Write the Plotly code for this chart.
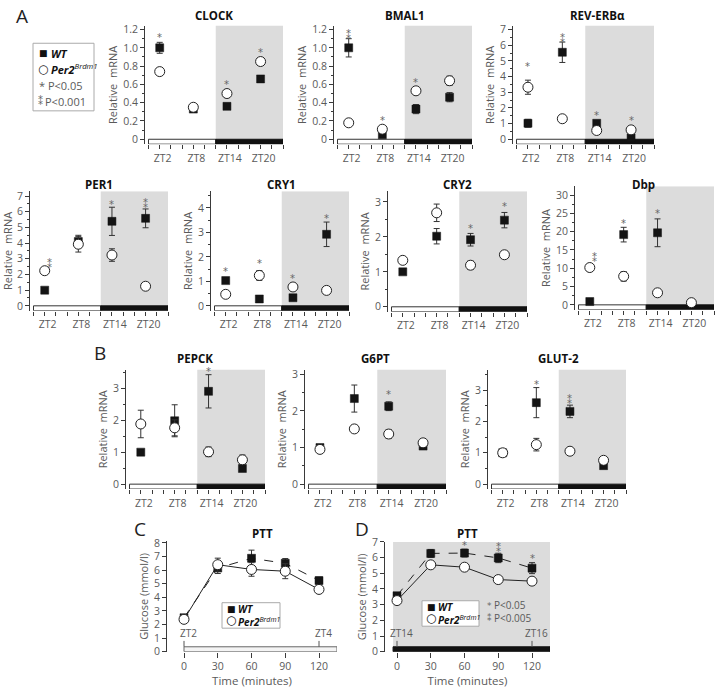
import plotly.graph_objects as go

W, H = 715, 692
FONT = "Open Sans"
GREY = "#5a5a5a"
AX = "#3a3a3a"
SHADE = "#dcdcdc"

# ---------------- data ----------------
ZT = [2, 8, 14, 20]
ZT_LABELS = ["ZT2", "ZT8", "ZT14", "ZT20"]

clock_wt = [1.00, 0.33, 0.36, 0.66]
clock_wt_err = [0.06, 0.03, 0.03, 0.02]
clock_per2 = [0.74, 0.35, 0.50, 0.85]
clock_per2_err = [0.04, 0.03, 0.04, 0.04]

bmal1_wt = [1.00, 0.05, 0.33, 0.46]
bmal1_wt_err = [0.10, 0.01, 0.05, 0.05]
bmal1_per2 = [0.18, 0.11, 0.53, 0.64]
bmal1_per2_err = [0.02, 0.02, 0.03, 0.05]

reverb_wt = [1.02, 5.55, 1.02, 0.10]
reverb_wt_err = [0.25, 0.65, 0.10, 0.05]
reverb_per2 = [3.32, 1.31, 0.56, 0.60]
reverb_per2_err = [0.45, 0.15, 0.05, 0.05]

per1_wt = [1.00, 4.10, 5.39, 5.58]
per1_wt_err = [0.05, 0.40, 0.90, 0.60]
per1_per2 = [2.24, 3.93, 3.24, 1.25]
per1_per2_err = [0.20, 0.50, 0.40, 0.20]

cry1_wt = [1.03, 0.28, 0.33, 2.92]
cry1_wt_err = [0.07, 0.03, 0.03, 0.50]
cry1_per2 = [0.47, 1.24, 0.77, 0.63]
cry1_per2_err = [0.05, 0.20, 0.10, 0.05]

cry2_wt = [1.00, 2.02, 1.92, 2.48]
cry2_wt_err = [0.05, 0.22, 0.18, 0.22]
cry2_per2 = [1.33, 2.69, 1.19, 1.49]
cry2_per2_err = [0.06, 0.25, 0.12, 0.08]

dbp_wt = [0.9, 19.2, 19.7, 0.2]
dbp_wt_err = [0.2, 2.0, 3.8, 0.1]
dbp_per2 = [10.2, 7.8, 3.3, 0.6]
dbp_per2_err = [1.0, 1.3, 0.4, 0.2]

pepck_wt = [1.00, 1.98, 2.90, 0.49]
pepck_wt_err = [0.03, 0.50, 0.52, 0.05]
pepck_per2 = [1.88, 1.76, 1.01, 0.76]
pepck_per2_err = [0.43, 0.25, 0.15, 0.15]

g6pt_wt = [1.00, 2.34, 2.13, 1.04]
g6pt_wt_err = [0.03, 0.37, 0.12, 0.05]
g6pt_per2 = [0.95, 1.51, 1.37, 1.13]
g6pt_per2_err = [0.05, 0.10, 0.12, 0.05]

glut2_wt = [1.00, 2.60, 2.32, 0.59]
glut2_wt_err = [0.05, 0.48, 0.20, 0.05]
glut2_per2 = [1.00, 1.26, 1.05, 0.76]
glut2_per2_err = [0.10, 0.20, 0.05, 0.05]

TIME = [0, 30, 60, 90, 120]
ptt_c_wt = [2.50, 6.15, 6.87, 6.50, 5.23]
ptt_c_wt_err = [0.10, 0.40, 0.60, 0.35, 0.25]
ptt_c_per2 = [2.38, 6.40, 6.05, 5.92, 4.58]
ptt_c_per2_err = [0.10, 0.48, 0.50, 0.55, 0.20]
ptt_d_wt = [3.57, 6.27, 6.29, 5.98, 5.33]
ptt_d_wt_err = [0.10, 0.25, 0.25, 0.30, 0.35]
ptt_d_per2 = [3.26, 5.54, 5.39, 4.60, 4.50]
ptt_d_per2_err = [0.10, 0.10, 0.10, 0.10, 0.10]

# significance marks: (x, y, number of stars)
clock_stars = [(2, 1.10, 1), (14, 0.59, 1), (20, 0.94, 1)]
bmal1_stars = [(2, 1.15, 2), (8, 0.19, 1), (14, 0.61, 1)]
reverb_stars = [(2, 4.57, 1), (8, 6.47, 2), (14, 1.45, 1), (20, 1.14, 1)]
per1_stars = [(2.8, 2.75, 2), (14, 6.41, 1), (20, 6.58, 2)]
cry1_stars = [(2, 1.37, 1), (8, 1.67, 1), (14, 1.07, 1), (20, 3.53, 1)]
cry2_stars = [(14, 2.22, 1), (20, 2.83, 1)]
dbp_stars = [(2.8, 13.2, 2), (8, 22.1, 1), (14, 24.6, 1)]
pepck_stars = [(14, 3.49, 1)]
g6pt_stars = [(14, 2.43, 1)]
glut2_stars = [(8, 3.16, 1), (14, 2.72, 2)]
ptt_d_stars = [(60, 6.74, 1), (90, 6.67, 2), (120, 5.87, 1)]


def px(x):
    return x / W


def py(y):
    return 1 - y / H


def ticks(lo, hi, step, fmt):
    vals, txt = [], []
    v = lo
    while v <= hi + 1e-9:
        vals.append(round(v, 6))
        txt.append("0" if abs(v) < 1e-9 else fmt.format(v))
        v += step
    return vals, txt


zt_panels = [
    dict(title="CLOCK", tx=214, ty=9, xa=145, xr=283, y0p=135, ytp=23, tv=1.2, ytop=19, ybot=140,
         yt=ticks(0, 1.2, 0.2, "{:.1f}"), minor=0.1,
         wt=clock_wt, wte=clock_wt_err, mu=clock_per2, mue=clock_per2_err, stars=clock_stars),
    dict(title="BMAL1", tx=405, ty=9, xa=334, xr=472, y0p=135, ytp=23, tv=1.2, ytop=19, ybot=140,
         yt=ticks(0, 1.2, 0.2, "{:.1f}"), minor=0.1,
         wt=bmal1_wt, wte=bmal1_wt_err, mu=bmal1_per2, mue=bmal1_per2_err, stars=bmal1_stars),
    dict(title="REV-ERBα", tx=597, ty=9, xa=513, xr=654, y0p=135, ytp=23, tv=7, ytop=19, ybot=140,
         yt=ticks(0, 7, 1, "{:.0f}"), minor=0.5,
         wt=reverb_wt, wte=reverb_wt_err, mu=reverb_per2, mue=reverb_per2_err, stars=reverb_stars),
    dict(title="PER1", tx=99, ty=181, xa=30, xr=168, y0p=305, ytp=193, tv=7, ytop=188, ybot=310,
         yt=ticks(0, 7, 1, "{:.0f}"), minor=0.5,
         wt=per1_wt, wte=per1_wt_err, mu=per1_per2, mue=per1_per2_err, stars=per1_stars),
    dict(title="CRY1", tx=281, ty=181, xa=211, xr=349, y0p=305, ytp=205, tv=4, ytop=188, ybot=310,
         yt=ticks(0, 4, 1, "{:.0f}"), minor=0.5,
         wt=cry1_wt, wte=cry1_wt_err, mu=cry1_per2, mue=cry1_per2_err, stars=cry1_stars),
    dict(title="CRY2", tx=457, ty=181, xa=388, xr=527, y0p=306, ytp=199, tv=3, ytop=188, ybot=311,
         yt=ticks(0, 3, 1, "{:.0f}"), minor=0.5,
         wt=cry2_wt, wte=cry2_wt_err, mu=cry2_per2, mue=cry2_per2_err, stars=cry2_stars),
    dict(title="Dbp", tx=643, ty=181, xa=575, xr=714, y0p=304, ytp=192, tv=30, ytop=183, ybot=309,
         yt=ticks(0, 30, 5, "{:.0f}"), minor=2.5,
         wt=dbp_wt, wte=dbp_wt_err, mu=dbp_per2, mue=dbp_per2_err, stars=dbp_stars),
    dict(title="PEPCK", tx=195, ty=359, xa=126, xr=265, y0p=487, ytp=389, tv=3, ytop=370, ybot=492,
         yt=ticks(0, 3, 1, "{:.0f}"), minor=0.5,
         wt=pepck_wt, wte=pepck_wt_err, mu=pepck_per2, mue=pepck_per2_err, stars=pepck_stars),
    dict(title="G6PT", tx=375, ty=359, xa=305, xr=446, y0p=487, ytp=375, tv=3, ytop=370, ybot=492,
         yt=ticks(0, 3, 1, "{:.0f}"), minor=0.5,
         wt=g6pt_wt, wte=g6pt_wt_err, mu=g6pt_per2, mue=g6pt_per2_err, stars=g6pt_stars),
    dict(title="GLUT-2", tx=558, ty=359, xa=488, xr=626, y0p=487, ytp=391, tv=3, ytop=370, ybot=492,
         yt=ticks(0, 3, 1, "{:.0f}"), minor=0.5,
         wt=glut2_wt, wte=glut2_wt_err, mu=glut2_per2, mue=glut2_per2_err, stars=glut2_stars),
]

fig = go.Figure()
layout = dict(width=W, height=H, margin=dict(l=0, r=0, t=0, b=0),
              paper_bgcolor="white", plot_bgcolor="rgba(0,0,0,0)",
              showlegend=False, font=dict(family=FONT, color=GREY, size=11))
shapes = []
annotations = []

TICKFONT = dict(family=FONT, size=10.5, color=GREY)
TITLEFONT = dict(family=FONT, size=11.5, color="#111")
STARFONT = dict(family="DejaVu Sans", size=10, color="#666")


def add_series(i, xs, wt, wte, mu, mue, lines=False):
    xr, yr = ("x" if i == 1 else f"x{i}"), ("y" if i == 1 else f"y{i}")
    fig.add_trace(go.Scatter(
        x=xs, y=wt, xaxis=xr, yaxis=yr,
        mode="lines+markers" if lines else "markers",
        line=dict(color="#222", width=1, dash="dash"),
        marker=dict(symbol="square", size=8, color="#141414", line=dict(color="#141414", width=0.5)),
        error_y=dict(type="data", array=wte, color="#333", thickness=1, width=3)))
    fig.add_trace(go.Scatter(
        x=xs, y=mu, xaxis=xr, yaxis=yr,
        mode="lines+markers" if lines else "markers",
        line=dict(color="#222", width=1),
        marker=dict(symbol="circle", size=10, color="white", line=dict(color="#222", width=1)),
        error_y=dict(type="data", array=mue, color="#333", thickness=1, width=3)))


def add_stars(i, stars):
    xr, yr = ("x" if i == 1 else f"x{i}"), ("y" if i == 1 else f"y{i}")
    for (sx, sy, n) in stars:
        annotations.append(dict(x=sx, y=sy, xref=xr, yref=yr, text="*" if n == 1 else "⁑",
                                showarrow=False, font=STARFONT,
                                yanchor="middle", xanchor="center", yshift=1 if n == 1 else -1))


for i, p in enumerate(zt_panels, start=1):
    xk = "xaxis" if i == 1 else f"xaxis{i}"
    yk = "yaxis" if i == 1 else f"yaxis{i}"
    xr = "x" if i == 1 else f"x{i}"
    yr = "y" if i == 1 else f"y{i}"
    ppu = (p["y0p"] - p["ytp"]) / p["tv"]
    ylo = -(p["ybot"] - p["y0p"]) / ppu
    yhi = p["tv"] + (p["ytp"] - p["ytop"]) / ppu
    pph = (p["xr"] - (p["xa"] + 3.5)) / 24
    xlo = -3.5 / pph
    layout[xk] = dict(domain=[px(p["xa"]), px(p["xr"])], anchor=yr, range=[xlo, 24],
                      showgrid=False, zeroline=False, showline=False,
                      tickvals=ZT, ticktext=ZT_LABELS, ticks="outside", ticklen=4,
                      tickcolor=AX, tickfont=TICKFONT, ticklabelshift=3,
                      minor=dict(tickvals=list(range(0, 25, 2)), ticks="outside", ticklen=4, tickcolor=AX))
    layout[yk] = dict(domain=[py(p["ybot"]), py(p["ytop"])], anchor=xr, range=[ylo, yhi],
                      showgrid=False, zeroline=False, showline=True, linecolor=AX, linewidth=1,
                      tickvals=p["yt"][0], ticktext=p["yt"][1], ticks="outside", ticklen=4,
                      tickcolor=AX, tickfont=TICKFONT,
                      minor=dict(dtick=p["minor"], tick0=0, ticks="outside", ticklen=2.5, tickcolor=AX),
                      title=dict(text="Relative  mRNA", font=dict(family=FONT, size=11, color=GREY),
                                 standoff=3))
    # night shading
    shapes.append(dict(type="rect", xref=xr, yref=yr, x0=12, x1=24, y0=0, y1=yhi,
                       fillcolor=SHADE, line=dict(width=0), layer="below"))
    # light / dark bar
    shapes.append(dict(type="rect", xref=xr, yref=yr, x0=0, x1=12, y0=ylo, y1=0,
                       fillcolor="white", line=dict(color="#333", width=1), layer="below"))
    shapes.append(dict(type="rect", xref=xr, yref=yr, x0=12, x1=24, y0=ylo, y1=0,
                       fillcolor="#111", line=dict(color="#111", width=1), layer="below"))
    annotations.append(dict(x=px(p["tx"]), y=py(p["ty"]), xref="paper", yref="paper",
                            text=f"<b>{p['title']}</b>", showarrow=False, font=TITLEFONT,
                            xanchor="center", yanchor="middle"))
    add_series(i, ZT, p["wt"], p["wte"], p["mu"], p["mue"])
    add_stars(i, p["stars"])

# ---------------- PTT panels ----------------
ptt_panels = [
    dict(tx=262, xa=167, x0pix=184, xr=337, y0p=658, ytp=547, tv=8, ytop=545, ybot=658,
         wt=ptt_c_wt, wte=ptt_c_wt_err, mu=ptt_c_per2, mue=ptt_c_per2_err, stars=[],
         zt=("ZT2", "ZT4"), night=False),
    dict(tx=467, xa=385, x0pix=397, xr=550, y0p=658, ytp=546, tv=7, ytop=546, ybot=658,
         wt=ptt_d_wt, wte=ptt_d_wt_err, mu=ptt_d_per2, mue=ptt_d_per2_err, stars=ptt_d_stars,
         zt=("ZT14", "ZT16"), night=True),
]
for j, p in enumerate(ptt_panels):
    i = len(zt_panels) + 1 + j
    xk, yk, xr, yr = f"xaxis{i}", f"yaxis{i}", f"x{i}", f"y{i}"
    ppu = (p["y0p"] - p["ytp"]) / p["tv"]
    ylo = -(p["ybot"] - p["y0p"]) / ppu
    yhi = p["tv"] + (p["ytp"] - p["ytop"]) / ppu
    ppm = 1.125
    xlo = (p["xa"] - p["x0pix"]) / ppm
    xhi = (p["xr"] - p["x0pix"]) / ppm
    layout[xk] = dict(domain=[px(p["xa"]), px(p["xr"])], anchor=yr, range=[xlo, xhi],
                      showgrid=False, zeroline=False, showline=False,
                      tickvals=TIME, ticks="outside", ticklen=5, tickcolor=AX, tickfont=TICKFONT,
                      title=dict(text="Time (minutes)", font=dict(family=FONT, size=11.5, color=GREY),
                                 standoff=4))
    layout[yk] = dict(domain=[py(p["ybot"]), py(p["ytop"])], anchor=xr, range=[ylo, yhi],
                      showgrid=False, zeroline=False, showline=True, linecolor=AX, linewidth=1,
                      dtick=1, tick0=0, ticks="outside", ticklen=4, tickcolor=AX, tickfont=TICKFONT,
                      title=dict(text="Glucose (mmol/l)", font=dict(family=FONT, size=11, color=GREY),
                                 standoff=3))
    bar_top = 5 / ppu
    if p["night"]:
        shapes.append(dict(type="rect", xref=xr, yref=yr, x0=-3.5, x1=xhi, y0=0, y1=p["tv"],
                           fillcolor=SHADE, line=dict(width=0), layer="below"))
        shapes.append(dict(type="rect", xref=xr, yref=yr, x0=-3.5, x1=xhi, y0=0, y1=bar_top,
                           fillcolor="#111", line=dict(color="#111", width=1), layer="below"))
    else:
        shapes.append(dict(type="rect", xref=xr, yref=yr, x0=0, x1=xhi, y0=0, y1=bar_top,
                           fillcolor="#f4f4f4", line=dict(color="#666", width=1), layer="below"))
    for tx_, lab in zip([0, 120], p["zt"]):
        shapes.append(dict(type="line", xref=xr, yref=yr, x0=tx_, x1=tx_, y0=bar_top, y1=bar_top + 6 / ppu,
                           line=dict(color="#555", width=1), layer="below"))
        annotations.append(dict(x=tx_, y=bar_top + 6 / ppu, xref=xr, yref=yr, text=lab, showarrow=False,
                                font=dict(family=FONT, size=10, color=GREY),
                                xanchor="center", yanchor="bottom", xshift=4, yshift=-1))
    annotations.append(dict(x=px(p["tx"]), y=py(537), xref="paper", yref="paper",
                            text="<b>PTT</b>", showarrow=False, font=TITLEFONT,
                            xanchor="center", yanchor="middle"))
    add_series(i, TIME, p["wt"], p["wte"], p["mu"], p["mue"], lines=True)
    add_stars(i, p["stars"])

# ---------------- panel letters ----------------
for letter, lx, ly in [("A", 22, 9), ("B", 100, 353), ("C", 140, 533), ("D", 362, 533)]:
    annotations.append(dict(x=px(lx), y=py(ly), xref="paper", yref="paper", text=letter,
                            showarrow=False, font=dict(family=FONT, size=19, color="#222"),
                            xanchor="center", yanchor="middle"))

PER2_TXT = "<b><i>Per2</i></b><sup><i>Brdm1</i></sup>"


def legend_box(x0, y0, x1, y1):
    shapes.append(dict(type="rect", xref="paper", yref="paper", x0=px(x0), x1=px(x1),
                       y0=py(y1), y1=py(y0), fillcolor="white",
                       line=dict(color="#aaa", width=1)))


def legend_text(x, y, txt, size=11, color="#111", family=FONT, align="left"):
    annotations.append(dict(x=px(x), y=py(y), xref="paper", yref="paper", text=txt,
                            showarrow=False, font=dict(family=family, size=size, color=color),
                            xanchor="left", yanchor="middle", align=align))


def legend_keys(x, y_wt, y_mu):
    legend_text(x, y_wt, "■", size=9, family="DejaVu Sans")
    legend_text(x - 1.5, y_mu, "○", size=12, family="DejaVu Sans", color="#222")


# legend A
legend_box(33, 37, 94, 106)
legend_keys(37, 47, 63)
legend_text(49, 47, "<b><i>WT</i></b>")
legend_text(49, 63, PER2_TXT)
legend_text(37, 80, "* P<0.05", color=GREY)
legend_text(36, 96, "⁑", size=10, color="#666", family="DejaVu Sans")
legend_text(43, 96, "P<0.001", color=GREY)

# legends C and D (keys + labels as single stacked texts)
KEYS_TXT = "<span style='font-size:9px'>■</span><br><span style='font-size:12px'>○</span>"
LABELS_TXT = "<b><i>WT</i></b><br>" + PER2_TXT
legend_box(222, 608, 280, 634)
legend_text(224, 621, KEYS_TXT, size=9.5, family="DejaVu Sans", color="#111", align="center")
legend_text(236, 621, LABELS_TXT, size=10)

legend_box(422, 606, 479, 632)
legend_text(424, 619, KEYS_TXT, size=9.5, family="DejaVu Sans", color="#111", align="center")
legend_text(436, 619, LABELS_TXT, size=10)
legend_text(485, 617, "*<br>⁑", size=9, color="#666", family="DejaVu Sans", align="center")
legend_text(492, 617, "P<0.05<br>P<0.005", size=10, color=GREY)

layout["shapes"] = shapes
layout["annotations"] = annotations
fig.update_layout(**layout)
fig.write_html("out.html", config={"displayModeBar": False},
               post_script="document.body.style.margin='0';")
